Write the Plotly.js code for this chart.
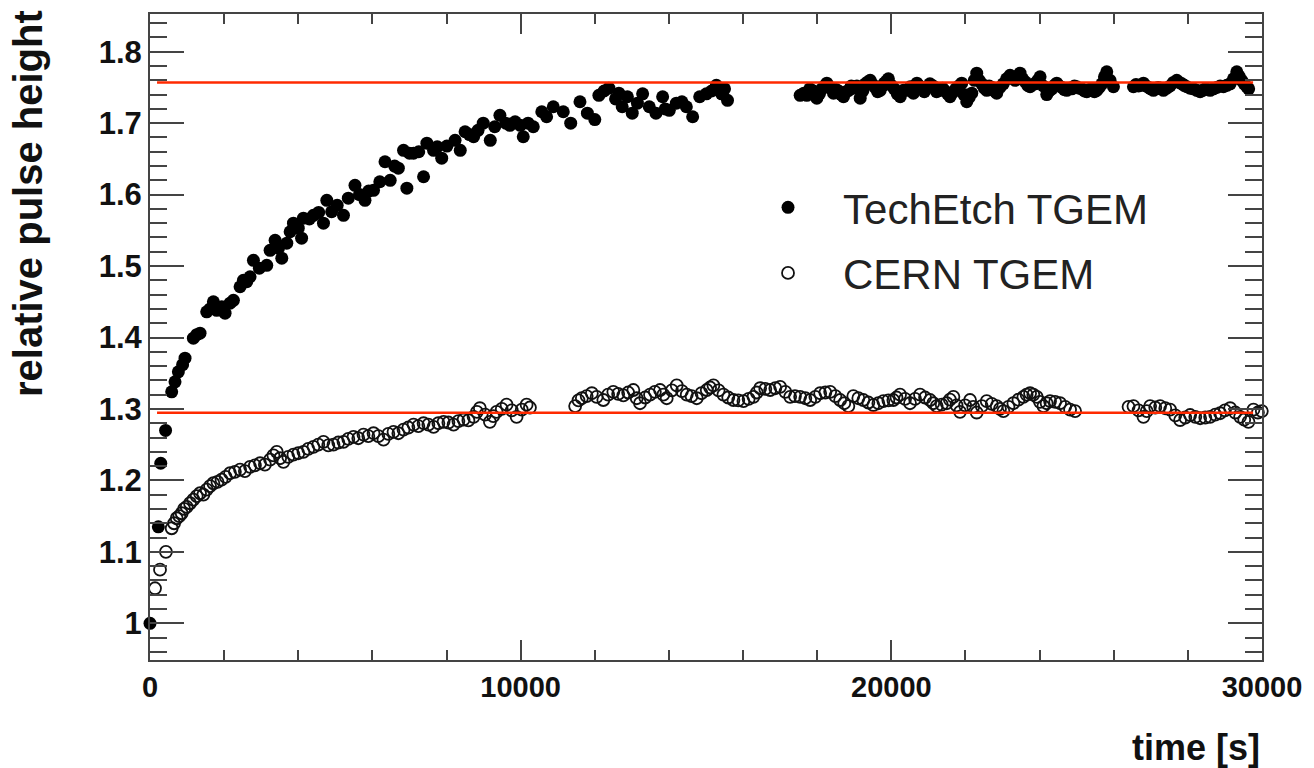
<!DOCTYPE html>
<html>
<head>
<meta charset="utf-8">
<script src="https://cdn.plot.ly/plotly-3.0.1.min.js"></script>
<style>html,body{margin:0;padding:0;background:#fff;}#chart{width:1314px;height:768px;}</style>
</head>
<body>
<div id="chart"></div>
<script>
// ---- data ----
const techEtchTime = [
  0,225,290,420,585,675,765,880,945,1170,1260,1350,1530,1620,1710,1800,1935,2025,2160,2250,
  2430,2520,2610,2700,2790,2950,3150,3240,3375,3465,3555,3690,3780,3870,4000,4090,4140,4300,4410,4550,
  4680,4770,4900,5050,5220,5350,5530,5650,5800,5900,6030,6200,6340,6480,6600,6700,6840,6930,7000,7110,
  7250,7380,7470,7650,7750,7870,8010,8230,8370,8500,8620,8730,8850,8990,9180,9300,9440,9600,9710,9850,
  9990,10070,10200,10340,10570,10700,10880,11150,11350,11600,11800,12000,12110,12250,12380,12560,12650,12740,12880,13010,
  13150,13290,13470,13650,13830,13900,14010,14200,14350,14470,14640,14830,15010,15150,15280,15420,15500,15580,
  17540,17640,17720,17800,17900,17990,18060,18130,18200,18260,
  18350,18440,18510,18580,18650,18710,18780,18850,18920,18980,
  19070,19160,19230,19300,19370,19430,19500,19560,19630,19700,
  19760,19810,19870,19920,20000,20080,20160,20240,20325,20420,
  20510,20595,20690,20760,20820,20890,20955,21040,21130,21220,
  21314,21380,21450,21520,21584,21660,21740,21820,21899,21960,
  22034,22100,22170,22240,22304,22370,22440,22510,22574,22640,
  22710,22780,22843,22930,23020,23110,23203,23270,23340,23410,
  23473,23540,23610,23680,23743,23810,23880,23950,24013,24100,
  24193,24260,24330,24400,24463,24530,24600,24670,24733,24800,
  24870,24940,25003,25070,25140,25210,25273,25340,25410,25480,
  25542,25610,25680,25750,25812,25900,25992,26532,26600,26670,
  26740,26802,26870,26940,27000,27071,27140,27200,27270,27341,
  27430,27520,27610,27701,27770,27840,27900,27971,28060,28150,
  28240,28331,28400,28470,28540,28600,28690,28780,28870,28960,
  29050,29140,29230,29320,29380,29450,29520,29590,29640
];
const techEtchHeight = [
  1.000,1.135,1.224,1.270,1.324,1.338,1.352,1.362,1.371,1.399,1.404,1.406,1.436,1.440,1.450,1.438,1.443,1.434,1.448,1.452,
  1.471,1.480,1.478,1.485,1.508,1.497,1.501,1.522,1.536,1.525,1.511,1.532,1.548,1.560,1.553,1.539,1.567,1.566,1.571,1.575,
  1.560,1.592,1.576,1.585,1.571,1.595,1.613,1.600,1.592,1.605,1.606,1.618,1.646,1.620,1.640,1.637,1.662,1.609,1.658,1.658,
  1.660,1.625,1.672,1.662,1.667,1.651,1.668,1.676,1.662,1.688,1.684,1.681,1.690,1.700,1.676,1.695,1.711,1.700,1.697,1.702,
  1.697,1.681,1.700,1.695,1.716,1.709,1.723,1.716,1.700,1.730,1.714,1.705,1.739,1.745,1.749,1.734,1.742,1.723,1.737,1.714,
  1.728,1.741,1.723,1.714,1.737,1.720,1.718,1.728,1.730,1.723,1.709,1.737,1.741,1.745,1.753,1.741,1.748,1.732,
  1.739,1.742,1.739,1.748,1.745,1.735,1.741,1.748,1.752,1.756,
  1.750,1.742,1.747,1.745,1.740,1.737,1.744,1.746,1.752,1.749,
  1.752,1.735,1.745,1.755,1.758,1.760,1.754,1.750,1.744,1.746,
  1.752,1.756,1.759,1.762,1.753,1.748,1.741,1.737,1.746,1.746,
  1.751,1.742,1.756,1.752,1.750,1.744,1.749,1.755,1.752,1.744,
  1.746,1.749,1.745,1.741,1.737,1.743,1.748,1.752,1.756,1.740,
  1.730,1.736,1.742,1.760,1.770,1.760,1.755,1.749,1.746,1.752,
  1.750,1.745,1.742,1.750,1.755,1.762,1.767,1.763,1.760,1.766,
  1.770,1.762,1.758,1.753,1.751,1.754,1.755,1.760,1.765,1.752,
  1.740,1.745,1.748,1.753,1.756,1.752,1.750,1.747,1.746,1.749,
  1.748,1.752,1.751,1.749,1.748,1.745,1.744,1.747,1.748,1.744,
  1.746,1.750,1.755,1.765,1.772,1.760,1.751,1.751,1.754,1.752,
  1.753,1.756,1.752,1.750,1.748,1.746,1.748,1.750,1.749,1.746,
  1.749,1.752,1.757,1.760,1.757,1.755,1.753,1.751,1.749,1.748,
  1.746,1.744,1.746,1.748,1.747,1.746,1.748,1.750,1.752,1.751,
  1.753,1.755,1.762,1.772,1.766,1.760,1.755,1.751,1.748
];
const cernTime = [
  135,270,430,585,650,720,790,855,920,990,1080,1170,1260,1350,1440,1530,1620,1710,1820,1930,
  2040,2160,2290,2430,2560,2700,2830,2970,3100,3240,3330,3420,3510,3600,3730,3870,4000,4140,4270,4410,
  4540,4680,4810,4950,5080,5220,5350,5490,5620,5760,5890,6030,6160,6300,6430,6570,6700,6840,6970,7110,
  7240,7380,7510,7650,7780,7920,8050,8190,8320,8460,8590,8730,8820,8900,9040,9170,9260,9350,9490,9620,
  9760,9890,10030,10160,10250,
  11470,11560,11650,11780,11920,12050,12230,12360,12500,12630,12770,12900,13040,13130,13220,13360,13490,13620,13760,13850,
  13940,14080,14210,14350,14480,14610,14750,14880,15020,15110,15200,15340,15470,15600,15740,15870,16010,16150,16280,16370,
  16460,16600,16730,16870,17000,17140,17270,17400,17540,17680,17810,17950,18080,18220,18350,18490,18620,18730,18840,18975,
  19110,19245,19380,19515,19650,19785,19920,20054,20140,20234,20370,20504,20640,20774,20910,21044,21130,21224,21360,21494,
  21580,21674,21760,21853,21990,22123,22210,22303,22440,22573,22710,22843,22930,23023,23160,23293,23430,23563,23650,23743,
  23830,23923,24010,24103,24190,24282,24420,24552,24690,24822,24957,
  26400,26532,26670,26802,26890,26982,27120,27251,27390,27521,27660,27791,27930,28061,28200,28331,28470,28600,28740,28870,
  29000,29140,29280,29410,29520,29635,29770,29890,29995
];
const cernHeight = [
  1.049,1.075,1.100,1.133,1.140,1.147,1.150,1.154,1.160,1.163,1.168,1.173,1.178,1.182,1.180,1.187,1.192,1.196,1.198,1.201,
  1.205,1.210,1.212,1.215,1.213,1.219,1.221,1.224,1.222,1.229,1.235,1.240,1.231,1.226,1.233,1.236,1.238,1.240,1.244,1.247,
  1.250,1.254,1.249,1.250,1.253,1.254,1.258,1.261,1.259,1.264,1.262,1.266,1.262,1.257,1.265,1.268,1.266,1.271,1.274,1.278,
  1.276,1.280,1.278,1.275,1.280,1.282,1.281,1.278,1.283,1.285,1.284,1.289,1.296,1.301,1.292,1.282,1.290,1.296,1.300,1.306,
  1.298,1.289,1.299,1.306,1.302,
  1.304,1.312,1.315,1.318,1.322,1.317,1.3125,1.320,1.324,1.321,1.319,1.323,1.3265,1.315,1.308,1.316,1.320,1.324,1.3265,1.320,
  1.315,1.326,1.333,1.325,1.320,1.318,1.315,1.322,1.3265,1.330,1.333,1.326,1.320,1.316,1.3125,1.312,1.311,1.314,1.317,1.323,
  1.329,1.328,1.3265,1.329,1.331,1.324,1.317,1.318,1.317,1.315,1.3125,1.317,1.322,1.323,1.324,1.318,1.3125,1.308,1.304,1.318,
  1.315,1.3125,1.309,1.3055,1.308,1.311,1.312,1.3125,1.316,1.320,1.314,1.308,1.314,1.320,1.316,1.3125,1.308,1.304,1.306,1.308,
  1.313,1.317,1.305,1.296,1.305,1.3125,1.303,1.295,1.304,1.311,1.307,1.304,1.300,1.297,1.303,1.308,1.313,1.317,1.320,1.322,
  1.320,1.317,1.310,1.304,1.308,1.311,1.310,1.308,1.303,1.299,1.297,
  1.303,1.304,1.298,1.289,1.297,1.304,1.302,1.304,1.301,1.299,1.291,1.2845,1.288,1.2915,1.289,1.287,1.288,1.289,1.292,1.294,
  1.298,1.301,1.295,1.289,1.285,1.282,1.299,1.295,1.297
];
// fitted plateau levels (red lines) and their time span
const plateauLevels = [1.757, 1.2945];
const plateauSpan = [190, 29760];
const seriesNames = ['TechEtch TGEM', 'CERN TGEM'];
const xTickVals = [0, 10000, 20000, 30000];
const xTickText = ['0', '10000', '20000', '30000'];
const yTickVals = [1, 1.1, 1.2, 1.3, 1.4, 1.5, 1.6, 1.7, 1.8];
const yTickText = ['1', '1.1', '1.2', '1.3', '1.4', '1.5', '1.6', '1.7', '1.8'];
const xTitle = 'time [s]';
const yTitle = 'relative pulse height';

// ---- figure ----
const FONT = 'Liberation Sans, Arial, Helvetica, sans-serif';
const traces = [
  {
    x: techEtchTime, y: techEtchHeight, type: 'scatter', mode: 'markers',
    name: seriesNames[0], legendgroup: 'a', cliponaxis: false,
    marker: {symbol: 'circle', size: 13, color: '#000'}
  },
  {
    x: cernTime, y: cernHeight, type: 'scatter', mode: 'markers',
    name: seriesNames[1], legendgroup: 'b', cliponaxis: false,
    marker: {symbol: 'circle-open', size: 12, color: '#111', line: {width: 1.8, color: '#111'}}
  }
];
plateauLevels.forEach(function (lv) {
  traces.push({
    x: plateauSpan, y: [lv, lv], type: 'scatter', mode: 'lines',
    showlegend: false, hoverinfo: 'skip',
    line: {color: '#ff2a00', width: 2.5}
  });
});

const axisCommon = {
  showline: true, linecolor: '#444', linewidth: 2, mirror: 'ticks',
  ticks: 'inside', tickcolor: '#444', tickwidth: 2,
  showgrid: false, zeroline: false, tickmode: 'array'
};

const layout = {
  width: 1314, height: 768,
  margin: {l: 150, r: 52, t: 14, b: 108},
  paper_bgcolor: '#fff', plot_bgcolor: '#fff',
  showlegend: true,
  xaxis: Object.assign({}, axisCommon, {
    range: [0, 30000], tickvals: xTickVals, ticktext: xTickText, ticklen: 20,
    tickfont: {family: FONT, size: 29, color: '#111', weight: 'bold'},
    minor: {tickmode: 'linear', tick0: 0, dtick: 2000, ticks: 'inside', ticklen: 10, tickwidth: 2, tickcolor: '#444'}
  }),
  yaxis: Object.assign({}, axisCommon, {
    range: [0.9486, 1.8528], tickvals: yTickVals, ticktext: yTickText, ticklen: 34,
    tickfont: {family: FONT, size: 31, color: '#111', weight: 'bold'},
    minor: {tickmode: 'linear', tick0: 1, dtick: 0.02, ticks: 'inside', ticklen: 17, tickwidth: 2, tickcolor: '#444'}
  }),
  legend: {
    x: 0.5243, xanchor: 'left', y: 0.753, yanchor: 'top',
    bgcolor: 'rgba(0,0,0,0)', borderwidth: 0,
    font: {family: FONT, size: 42, color: '#222'},
    itemwidth: 100, traceorder: 'grouped', tracegroupgap: 8
  },
  annotations: [
    {
      text: yTitle, xref: 'paper', yref: 'paper', x: -0.1097, y: 0.7059,
      xanchor: 'center', yanchor: 'middle', textangle: -90, showarrow: false,
      font: {family: FONT, size: 40, color: '#111', weight: 'bold'}
    },
    {
      text: xTitle, xref: 'paper', yref: 'paper', x: 1, y: -0.1347,
      xanchor: 'right', yanchor: 'middle', showarrow: false,
      font: {family: FONT, size: 36, color: '#111', weight: 'bold'}
    }
  ]
};

Plotly.newPlot('chart', traces, layout, {displayModeBar: false, staticPlot: true});
</script>
</body>
</html>
